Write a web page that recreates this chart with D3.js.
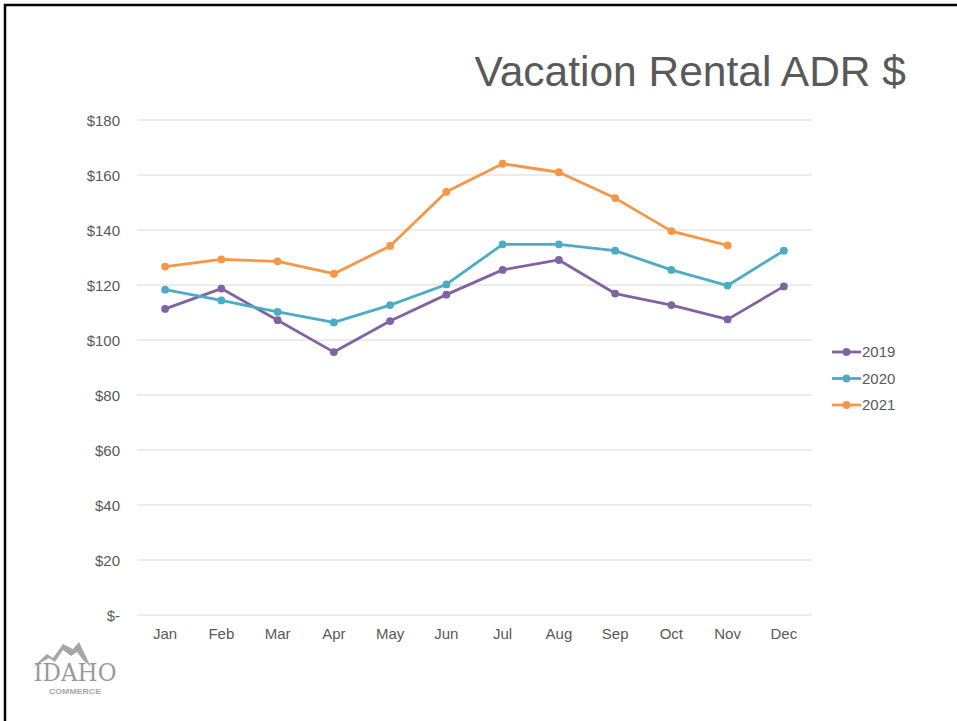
<!DOCTYPE html>
<html>
<head>
<meta charset="utf-8">
<script src="https://cdn.jsdelivr.net/npm/d3@7"></script>
<style>
  body { margin: 0; background: #fff; }
  svg { display: block; font-family: "Liberation Sans", Arial, sans-serif; }
</style>
</head>
<body>
<div id="chart"></div>
<script>
// data
var months = ['Jan','Feb','Mar','Apr','May','Jun','Jul','Aug','Sep','Oct','Nov','Dec'];
var years = ['2019','2020','2021'];
var adr2019 = [111.3, 118.7, 107.2, 95.6, 106.9, 116.5, 125.5, 129.1, 116.9, 112.7, 107.5, 119.5];
var adr2020 = [118.3, 114.4, 110.2, 106.4, 112.7, 120.2, 134.8, 134.8, 132.5, 125.5, 119.8, 132.5];
var adr2021 = [126.7, 129.3, 128.6, 124.1, 134.2, 153.9, 164.1, 161.0, 151.6, 139.6, 134.4];
var yTicks = [0, 20, 40, 60, 80, 100, 120, 140, 160, 180];
var colors = ['#8064a2', '#4bacc6', '#f79646'];

var series = [adr2019, adr2020, adr2021];

var width = 957, height = 721;
var svg = d3.select('#chart')
  .append('svg')
  .attr('width', width)
  .attr('height', height);

// slide frame
svg.append('rect')
  .attr('x', 5).attr('y', 5)
  .attr('width', 970).attr('height', 740)
  .style('fill', 'none')
  .style('stroke', '#000')
  .style('stroke-width', 2.5);

svg.append('text')
  .attr('x', 906).attr('y', 86)
  .attr('text-anchor', 'end')
  .style('font-size', '42.5px')
  .style('fill', '#595959')
  .text('Vacation Rental ADR $');

var x = d3.scaleBand().domain(months).range([137, 812]);
var y = d3.scaleLinear().domain([0, 180]).range([615, 120]);

// gridlines
svg.append('g')
  .selectAll('line')
  .data(yTicks)
  .enter().append('line')
  .attr('x1', 137).attr('x2', 812)
  .attr('y1', function(d){ return y(d); })
  .attr('y2', function(d){ return y(d); })
  .style('stroke', '#d9d9d9')
  .style('stroke-width', 1);

var yAxis = svg.append('g')
  .attr('transform', 'translate(120,1)')
  .call(d3.axisLeft(y).tickValues(yTicks).tickSize(0).tickPadding(0)
    .tickFormat(function(d){ return d === 0 ? '$-' : '$' + d; }));
yAxis.select('.domain').remove();
yAxis.selectAll('text')
  .style('font-size', '15px')
  .style('fill', '#595959')
  .style('font-family', '"Liberation Sans", Arial, sans-serif');

var xAxis = svg.append('g')
  .attr('transform', 'translate(0,' + 628 + ')')
  .call(d3.axisBottom(x).tickSize(0).tickPadding(0));
xAxis.select('.domain').remove();
xAxis.selectAll('text')
  .attr('dy', '0.71em')
  .style('font-size', '15px')
  .style('fill', '#595959')
  .style('font-family', '"Liberation Sans", Arial, sans-serif');

var line = d3.line()
  .x(function(d, i){ return x(months[i]) + x.bandwidth() / 2; })
  .y(function(d){ return y(d); });

series.forEach(function(vals, s){
  var g = svg.append('g');
  g.append('path')
    .datum(vals)
    .attr('d', line)
    .style('fill', 'none')
    .style('stroke', colors[s])
    .style('stroke-width', 2.8)
    .style('stroke-linejoin', 'round');
  g.selectAll('circle')
    .data(vals)
    .enter().append('circle')
    .attr('cx', function(d, i){ return x(months[i]) + x.bandwidth() / 2; })
    .attr('cy', function(d){ return y(d); })
    .attr('r', 3.9)
    .style('fill', colors[s]);
});

// legend
var legend = svg.append('g')
  .selectAll('g')
  .data(years)
  .enter().append('g')
  .attr('transform', function(d, i){ return 'translate(832,' + (352 + i * 26.5) + ')'; });
legend.append('line')
  .attr('x1', 0).attr('x2', 29)
  .style('stroke', function(d, i){ return colors[i]; })
  .style('stroke-width', 2.8);
legend.append('circle')
  .attr('cx', 14.5).attr('r', 3.9)
  .style('fill', function(d, i){ return colors[i]; });
legend.append('text')
  .attr('x', 30).attr('dy', '0.35em')
  .style('font-size', '15px')
  .style('fill', '#595959')
  .text(function(d){ return d; });

// Idaho Commerce logo
var logo = svg.append('g').attr('transform', 'translate(33,640)');
logo.append('path')
  .attr('d', 'M0,27 L14,14 L20,18 L30,4 L40,9 L46,2 L58,27 L50,20 L44,12 L38,16 L30,10 L22,22 L16,18 Z')
  .style('fill', '#a6a6a6');
logo.append('text')
  .attr('x', 42).attr('y', 41)
  .attr('text-anchor', 'middle')
  .attr('textLength', 83)
  .attr('lengthAdjust', 'spacingAndGlyphs')
  .style('font-family', '"DejaVu Serif", serif')
  .style('font-size', '25px')
  .style('fill', '#9a9a9a')
  .text('IDAHO');
logo.append('text')
  .attr('x', 42).attr('y', 54)
  .attr('text-anchor', 'middle')
  .attr('textLength', 52)
  .attr('lengthAdjust', 'spacingAndGlyphs')
  .style('font-size', '7px')
  .style('font-weight', 'bold')
  .style('fill', '#a6a6a6')
  .text('COMMERCE');
</script>
</body>
</html>
